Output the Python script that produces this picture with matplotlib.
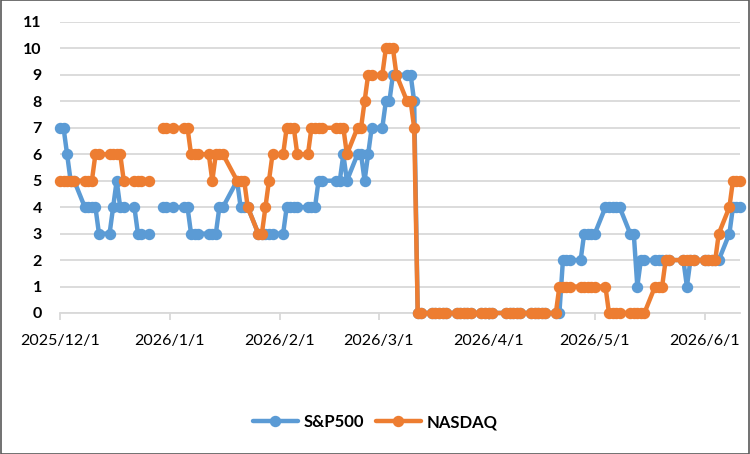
import matplotlib
matplotlib.use('Agg')
import matplotlib.pyplot as plt
import matplotlib.dates as mdates
import numpy as np
import pandas as pd

nan = np.nan

# trading days (weekdays minus market holidays)
holidays = ['2025-12-25', '2026-01-01', '2026-01-19', '2026-02-16', '2026-04-03', '2026-05-25']
dates = pd.bdate_range('2025-12-01', '2026-06-11')
dates = dates[~dates.isin(pd.to_datetime(holidays))]

# S&P500 values by month
sp_dec = [7, 7, 6, 5, 5, 4, 4, 4, 4, 3, 3, 4, 5, 4, 4, 4, 3, 3, 3, nan, 4, 4]
sp_jan = [4, 4, 4, 3, 3, 3, 3, 3, 3, 4, 4, 5, 4, 4, 4, 3, 3, 3, 3, 3]
sp_feb = [3, 4, 4, 4, 4, 4, 4, 4, 5, 5, 5, 5, 6, 5, 6, 6, 5, 6, 7]
sp_mar = [7, 8, 8, 9, 9, 9, 9, 8, 0, 0, 0, 0, 0, 0, 0, 0, 0, 0, 0, 0, 0, 0]
sp_apr = [0, 0, 0, 0, 0, 0, 0, 0, 0, 0, 0, 0, 0, 0, 2, 2, 2, 2, 3, 3, 3]
sp_may = [3, 4, 4, 4, 4, 4, 3, 3, 1, 2, 2, 2, 2, 2, 2, 2, 2, 1, 2, 2]
sp_jun = [2, 2, 2, 2, 2, 3, 4, 4, 4]

# NASDAQ values by month
nq_dec = [5, 5, 5, 5, 5, 5, 5, 5, 6, 6, 6, 6, 6, 6, 5, 5, 5, 5, 5, nan, 7, 7]
nq_jan = [7, 7, 7, 6, 6, 6, 6, 5, 6, 6, 6, 5, 5, 5, 4, 3, 3, 4, 5, 6]
nq_feb = [6, 7, 7, 7, 6, 6, 7, 7, 7, 7, 7, 7, 7, 6, 7, 7, 8, 9, 9]
nq_mar = [9, 10, 10, 10, 9, 8, 8, 7, 0, 0, 0, 0, 0, 0, 0, 0, 0, 0, 0, 0, 0, 0]
nq_apr = [0, 0, 0, 0, 0, 0, 0, 0, 0, 0, 0, 0, 0, 1, 1, 1, 1, 1, 1, 1, 1]
nq_may = [1, 1, 0, 0, 0, 0, 0, 0, 0, 0, 0, 1, 1, 1, 2, 2, 2, 2, 2, 2]
nq_jun = [2, 2, 2, 2, 3, 4, 5, 5, 5]

sp500 = sp_dec + sp_jan + sp_feb + sp_mar + sp_apr + sp_may + sp_jun
nasdaq = nq_dec + nq_jan + nq_feb + nq_mar + nq_apr + nq_may + nq_jun
assert len(sp500) == len(dates) == len(nasdaq)

series_names = ['S&P500', 'NASDAQ']
colors = ['#5B9BD5', '#ED7D31']
yticks = list(range(0, 12))

plt.rcParams['font.family'] = ['Lato', 'DejaVu Sans']

fig = plt.figure(figsize=(7.5, 4.54), dpi=100)
fig.patch.set_facecolor('white')
ax = fig.add_axes([0.08, 0.3106, 0.9067, 0.641])

for vals, name, c in zip([sp500, nasdaq], series_names, colors):
    ax.plot(dates, vals, color=c, lw=3.2, marker='o', ms=7.2, mec=c, mfc=c,
            label=name, clip_on=False, solid_capstyle='round', zorder=3)

ax.set_ylim(0, 11)
ax.set_yticks(yticks)
ax.set_xlim(pd.Timestamp('2025-12-01'), pd.Timestamp('2026-06-11'))
ax.xaxis.set_major_locator(mdates.MonthLocator(bymonthday=1))
ax.xaxis.set_major_formatter(
    matplotlib.ticker.FuncFormatter(lambda v, p: (lambda d: f"{d.year}/{d.month}/{d.day}")(mdates.num2date(v))))

ax.grid(axis='y', color='#D9D9D9', lw=1.3, zorder=0)
ax.set_axisbelow(True)
for s in ['top', 'right', 'left']:
    ax.spines[s].set_visible(False)
ax.spines['bottom'].set_color('#D9D9D9')
ax.spines['bottom'].set_linewidth(1.3)

ax.tick_params(axis='y', length=0, pad=13, labelsize=11.5, labelcolor='#000000')
for lab in ax.get_yticklabels():
    lab.set_fontweight('bold')
ax.tick_params(axis='x', length=5, width=1.3, color='#D9D9D9', pad=10,
               labelsize=11.5, labelcolor='#000000')

leg = fig.legend(loc='center', bbox_to_anchor=(0.5, 0.07), ncol=2, frameon=False,
                 prop={'weight': 'bold', 'size': 12}, handlelength=2.7, columnspacing=0.7,
                 handletextpad=0.35)

# chart border
fig.add_artist(plt.Rectangle((0.001, 0.001), 0.998, 0.998, transform=fig.transFigure,
                             fill=False, edgecolor='#595959', lw=1.2))

fig.savefig('out.png', dpi=100, facecolor='white')
